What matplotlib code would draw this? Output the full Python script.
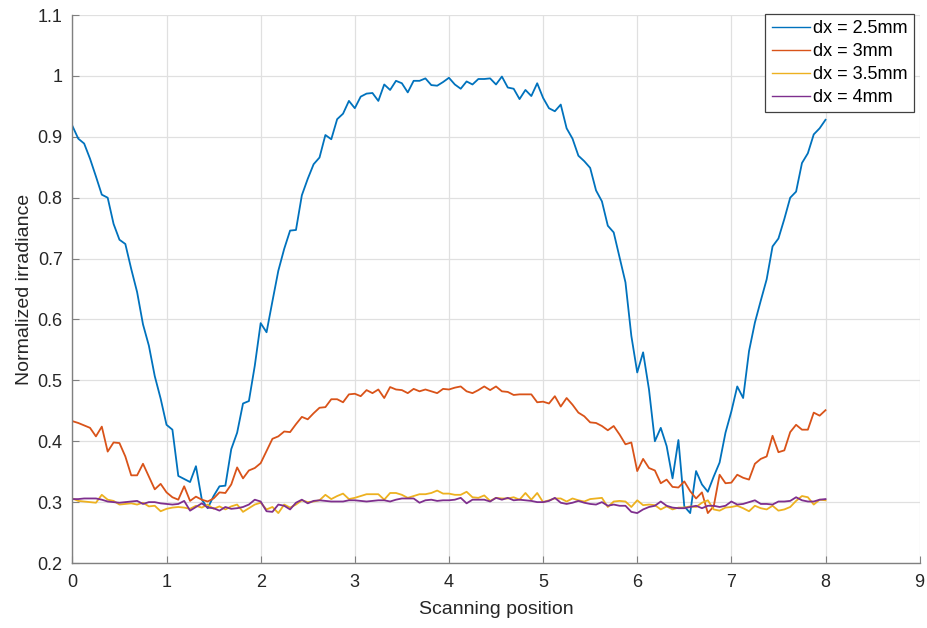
import numpy as np
import matplotlib
matplotlib.use('Agg')
import matplotlib.pyplot as plt
from matplotlib.ticker import FuncFormatter

# scanning positions (129 samples from 0 to 8)
pos = np.linspace(0, 8, 129)

# normalized irradiance, one list per spacing
dx25 = [0.918, 0.897, 0.889, 0.864, 0.835, 0.805, 0.800, 0.757, 0.731, 0.724, 0.683, 0.645,
        0.592, 0.557, 0.507, 0.470, 0.427, 0.419, 0.343, 0.338, 0.333, 0.359, 0.304, 0.290,
        0.310, 0.326, 0.327, 0.387, 0.414, 0.462, 0.466, 0.524, 0.594, 0.579, 0.630, 0.680,
        0.716, 0.746, 0.747, 0.804, 0.831, 0.855, 0.866, 0.903, 0.896, 0.929, 0.938, 0.959,
        0.947, 0.966, 0.971, 0.972, 0.959, 0.986, 0.977, 0.992, 0.988, 0.973, 0.992, 0.992,
        0.996, 0.985, 0.984, 0.990, 0.997, 0.986, 0.979, 0.991, 0.986, 0.995, 0.995, 0.996,
        0.986, 0.999, 0.981, 0.979, 0.962, 0.977, 0.967, 0.988, 0.964, 0.947, 0.942, 0.953,
        0.914, 0.897, 0.869, 0.860, 0.849, 0.812, 0.794, 0.754, 0.743, 0.702, 0.661, 0.573,
        0.513, 0.546, 0.485, 0.400, 0.422, 0.392, 0.339, 0.402, 0.293, 0.282, 0.351, 0.329,
        0.317, 0.342, 0.365, 0.414, 0.449, 0.490, 0.471, 0.548, 0.595, 0.631, 0.666, 0.720,
        0.733, 0.765, 0.800, 0.810, 0.857, 0.873, 0.904, 0.914, 0.928]

dx3 = [0.433, 0.430, 0.426, 0.422, 0.408, 0.424, 0.383, 0.398, 0.397, 0.375, 0.344, 0.344,
       0.363, 0.342, 0.321, 0.330, 0.316, 0.308, 0.304, 0.326, 0.302, 0.309, 0.304, 0.301,
       0.306, 0.316, 0.315, 0.329, 0.357, 0.339, 0.352, 0.356, 0.364, 0.384, 0.404, 0.408,
       0.416, 0.415, 0.428, 0.440, 0.436, 0.446, 0.455, 0.456, 0.469, 0.469, 0.464, 0.477,
       0.478, 0.474, 0.484, 0.479, 0.485, 0.471, 0.489, 0.485, 0.484, 0.479, 0.486, 0.482,
       0.485, 0.482, 0.479, 0.486, 0.485, 0.488, 0.490, 0.482, 0.479, 0.484, 0.490, 0.484,
       0.490, 0.482, 0.481, 0.476, 0.477, 0.477, 0.477, 0.464, 0.465, 0.462, 0.474, 0.457,
       0.471, 0.460, 0.447, 0.441, 0.431, 0.430, 0.425, 0.418, 0.425, 0.411, 0.395, 0.398,
       0.351, 0.371, 0.356, 0.352, 0.331, 0.337, 0.325, 0.324, 0.334, 0.318, 0.306, 0.316,
       0.282, 0.293, 0.345, 0.331, 0.332, 0.345, 0.340, 0.337, 0.363, 0.371, 0.375, 0.409,
       0.382, 0.385, 0.415, 0.427, 0.419, 0.419, 0.447, 0.442, 0.451]

dx35 = [0.306, 0.302, 0.301, 0.300, 0.299, 0.312, 0.304, 0.302, 0.296, 0.297, 0.298, 0.296,
        0.299, 0.293, 0.294, 0.285, 0.289, 0.291, 0.292, 0.291, 0.289, 0.294, 0.291, 0.296,
        0.289, 0.293, 0.288, 0.293, 0.296, 0.284, 0.290, 0.296, 0.299, 0.288, 0.292, 0.282,
        0.296, 0.291, 0.296, 0.303, 0.300, 0.301, 0.303, 0.312, 0.305, 0.310, 0.314, 0.305,
        0.307, 0.310, 0.313, 0.313, 0.313, 0.304, 0.315, 0.315, 0.312, 0.307, 0.310, 0.313,
        0.313, 0.315, 0.319, 0.314, 0.314, 0.312, 0.312, 0.317, 0.308, 0.307, 0.311, 0.302,
        0.307, 0.306, 0.306, 0.308, 0.304, 0.315, 0.304, 0.315, 0.300, 0.303, 0.306, 0.306,
        0.301, 0.306, 0.303, 0.301, 0.305, 0.306, 0.307, 0.292, 0.301, 0.302, 0.301, 0.292,
        0.303, 0.295, 0.296, 0.295, 0.288, 0.293, 0.288, 0.291, 0.291, 0.293, 0.292, 0.299,
        0.303, 0.288, 0.286, 0.291, 0.292, 0.294, 0.290, 0.285, 0.294, 0.290, 0.288, 0.294,
        0.286, 0.288, 0.292, 0.302, 0.310, 0.308, 0.296, 0.304, 0.303]

dx4 = [0.305, 0.305, 0.306, 0.306, 0.306, 0.304, 0.301, 0.300, 0.299, 0.300, 0.301, 0.302,
       0.297, 0.300, 0.300, 0.298, 0.297, 0.296, 0.297, 0.302, 0.286, 0.292, 0.298, 0.291,
       0.290, 0.286, 0.292, 0.289, 0.290, 0.292, 0.296, 0.304, 0.301, 0.285, 0.284, 0.296,
       0.294, 0.288, 0.299, 0.304, 0.298, 0.302, 0.303, 0.302, 0.301, 0.301, 0.301, 0.303,
       0.303, 0.302, 0.301, 0.302, 0.303, 0.303, 0.301, 0.304, 0.306, 0.306, 0.306, 0.299,
       0.303, 0.304, 0.302, 0.303, 0.303, 0.304, 0.307, 0.298, 0.304, 0.304, 0.304, 0.301,
       0.307, 0.304, 0.307, 0.303, 0.304, 0.303, 0.302, 0.300, 0.300, 0.302, 0.307, 0.299,
       0.297, 0.299, 0.302, 0.299, 0.297, 0.296, 0.300, 0.294, 0.296, 0.294, 0.294, 0.284,
       0.282, 0.288, 0.292, 0.294, 0.301, 0.294, 0.291, 0.290, 0.290, 0.292, 0.294, 0.290,
       0.294, 0.294, 0.292, 0.294, 0.301, 0.296, 0.297, 0.300, 0.303, 0.297, 0.297, 0.296,
       0.301, 0.301, 0.302, 0.308, 0.303, 0.301, 0.301, 0.304, 0.305]

labels = ['dx = 2.5mm', 'dx = 3mm', 'dx = 3.5mm', 'dx = 4mm']
colors = ['#0072BD', '#D95319', '#EDB120', '#7E2F8E']

plt.rcParams['font.family'] = ['Liberation Sans', 'DejaVu Sans']

fig = plt.figure(figsize=(9.28, 6.28), dpi=100)
ax = fig.add_axes([0.078, 0.1035, 0.913, 0.8725])

for ys, lab, col in zip([dx25, dx3, dx35, dx4], labels, colors):
	ax.plot(pos, ys, color=col, lw=1.3, label=lab)

ax.set_xlim(0, 9)
ax.set_ylim(0.2, 1.1)
ax.set_xticks(np.arange(0, 10, 1))
ax.set_yticks(np.arange(0.2, 1.11, 0.1))
ax.yaxis.set_major_formatter(FuncFormatter(lambda v, p: '%g' % round(v, 2)))

ax.grid(True, color='#e0e0e0', lw=0.9)
ax.set_axisbelow(True)
for s in ['top', 'right']:
	ax.spines[s].set_visible(False)
for s in ['left', 'bottom']:
	ax.spines[s].set_color('#808080')
	ax.spines[s].set_linewidth(1.0)
ax.tick_params(direction='in', length=5, color='#808080', labelsize=13,
	labelcolor='#262626')
ax.tick_params(axis='x', pad=8)
ax.tick_params(axis='y', pad=7)

ax.set_xlabel('Scanning position', fontsize=14, color='#262626', labelpad=7)
ax.set_ylabel('Normalized irradiance', fontsize=14, color='#262626', labelpad=3)

leg = ax.legend(loc='upper right', bbox_to_anchor=(0.9935, 1.002), fontsize=13,
	handlelength=2.1, fancybox=False, framealpha=1, borderpad=0.35,
	labelspacing=0.33, handletextpad=0.2, borderaxespad=0)
leg.get_frame().set_edgecolor('#404040')
leg.get_frame().set_linewidth(0.9)
for line in leg.get_lines():
	line.set_linewidth(1.0)

fig.savefig('out.png', dpi=100)
